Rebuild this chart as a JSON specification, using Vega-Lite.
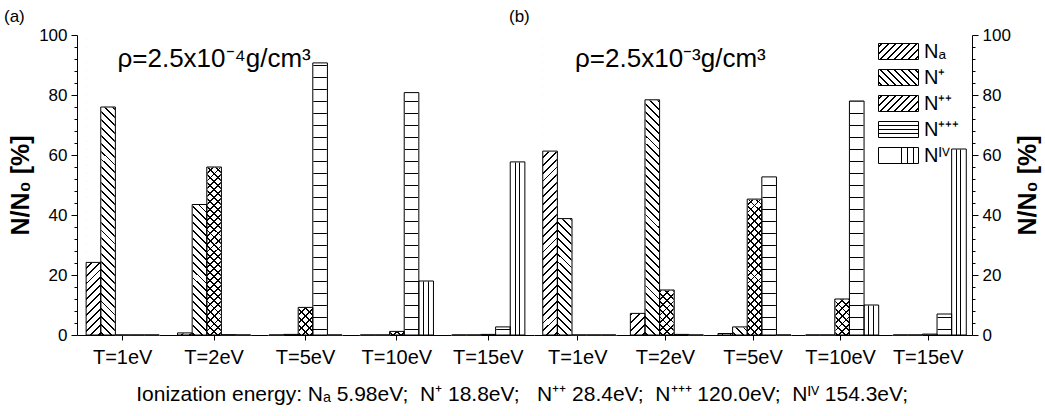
{
  "$schema": "https://vega.github.io/schema/vega-lite/v6.json",
  "padding": {"left": 4, "top": 8, "right": 5, "bottom": 5},
  "background": "white",
  "params": [
    {"name": "hatch", "value": [
      {"offset":0.010,"color":"transparent"},{"offset":0.010,"color":"#000"},{"offset":0.016,"color":"#000"},{"offset":0.016,"color":"transparent"},
      {"offset":0.035,"color":"transparent"},{"offset":0.035,"color":"#000"},{"offset":0.041,"color":"#000"},{"offset":0.041,"color":"transparent"},
      {"offset":0.060,"color":"transparent"},{"offset":0.060,"color":"#000"},{"offset":0.066,"color":"#000"},{"offset":0.066,"color":"transparent"},
      {"offset":0.085,"color":"transparent"},{"offset":0.085,"color":"#000"},{"offset":0.091,"color":"#000"},{"offset":0.091,"color":"transparent"},
      {"offset":0.110,"color":"transparent"},{"offset":0.110,"color":"#000"},{"offset":0.116,"color":"#000"},{"offset":0.116,"color":"transparent"},
      {"offset":0.135,"color":"transparent"},{"offset":0.135,"color":"#000"},{"offset":0.141,"color":"#000"},{"offset":0.141,"color":"transparent"},
      {"offset":0.160,"color":"transparent"},{"offset":0.160,"color":"#000"},{"offset":0.166,"color":"#000"},{"offset":0.166,"color":"transparent"},
      {"offset":0.185,"color":"transparent"},{"offset":0.185,"color":"#000"},{"offset":0.191,"color":"#000"},{"offset":0.191,"color":"transparent"},
      {"offset":0.210,"color":"transparent"},{"offset":0.210,"color":"#000"},{"offset":0.216,"color":"#000"},{"offset":0.216,"color":"transparent"},
      {"offset":0.235,"color":"transparent"},{"offset":0.235,"color":"#000"},{"offset":0.241,"color":"#000"},{"offset":0.241,"color":"transparent"},
      {"offset":0.260,"color":"transparent"},{"offset":0.260,"color":"#000"},{"offset":0.266,"color":"#000"},{"offset":0.266,"color":"transparent"},
      {"offset":0.285,"color":"transparent"},{"offset":0.285,"color":"#000"},{"offset":0.291,"color":"#000"},{"offset":0.291,"color":"transparent"},
      {"offset":0.310,"color":"transparent"},{"offset":0.310,"color":"#000"},{"offset":0.316,"color":"#000"},{"offset":0.316,"color":"transparent"},
      {"offset":0.335,"color":"transparent"},{"offset":0.335,"color":"#000"},{"offset":0.341,"color":"#000"},{"offset":0.341,"color":"transparent"},
      {"offset":0.360,"color":"transparent"},{"offset":0.360,"color":"#000"},{"offset":0.366,"color":"#000"},{"offset":0.366,"color":"transparent"},
      {"offset":0.385,"color":"transparent"},{"offset":0.385,"color":"#000"},{"offset":0.391,"color":"#000"},{"offset":0.391,"color":"transparent"},
      {"offset":0.410,"color":"transparent"},{"offset":0.410,"color":"#000"},{"offset":0.416,"color":"#000"},{"offset":0.416,"color":"transparent"},
      {"offset":0.435,"color":"transparent"},{"offset":0.435,"color":"#000"},{"offset":0.441,"color":"#000"},{"offset":0.441,"color":"transparent"},
      {"offset":0.460,"color":"transparent"},{"offset":0.460,"color":"#000"},{"offset":0.466,"color":"#000"},{"offset":0.466,"color":"transparent"},
      {"offset":0.485,"color":"transparent"},{"offset":0.485,"color":"#000"},{"offset":0.491,"color":"#000"},{"offset":0.491,"color":"transparent"},
      {"offset":0.510,"color":"transparent"},{"offset":0.510,"color":"#000"},{"offset":0.516,"color":"#000"},{"offset":0.516,"color":"transparent"},
      {"offset":0.535,"color":"transparent"},{"offset":0.535,"color":"#000"},{"offset":0.541,"color":"#000"},{"offset":0.541,"color":"transparent"},
      {"offset":0.560,"color":"transparent"},{"offset":0.560,"color":"#000"},{"offset":0.566,"color":"#000"},{"offset":0.566,"color":"transparent"},
      {"offset":0.585,"color":"transparent"},{"offset":0.585,"color":"#000"},{"offset":0.591,"color":"#000"},{"offset":0.591,"color":"transparent"},
      {"offset":0.610,"color":"transparent"},{"offset":0.610,"color":"#000"},{"offset":0.616,"color":"#000"},{"offset":0.616,"color":"transparent"},
      {"offset":0.635,"color":"transparent"},{"offset":0.635,"color":"#000"},{"offset":0.641,"color":"#000"},{"offset":0.641,"color":"transparent"},
      {"offset":0.660,"color":"transparent"},{"offset":0.660,"color":"#000"},{"offset":0.666,"color":"#000"},{"offset":0.666,"color":"transparent"},
      {"offset":0.685,"color":"transparent"},{"offset":0.685,"color":"#000"},{"offset":0.691,"color":"#000"},{"offset":0.691,"color":"transparent"},
      {"offset":0.710,"color":"transparent"},{"offset":0.710,"color":"#000"},{"offset":0.716,"color":"#000"},{"offset":0.716,"color":"transparent"},
      {"offset":0.735,"color":"transparent"},{"offset":0.735,"color":"#000"},{"offset":0.741,"color":"#000"},{"offset":0.741,"color":"transparent"},
      {"offset":0.760,"color":"transparent"},{"offset":0.760,"color":"#000"},{"offset":0.766,"color":"#000"},{"offset":0.766,"color":"transparent"},
      {"offset":0.785,"color":"transparent"},{"offset":0.785,"color":"#000"},{"offset":0.791,"color":"#000"},{"offset":0.791,"color":"transparent"},
      {"offset":0.810,"color":"transparent"},{"offset":0.810,"color":"#000"},{"offset":0.816,"color":"#000"},{"offset":0.816,"color":"transparent"},
      {"offset":0.835,"color":"transparent"},{"offset":0.835,"color":"#000"},{"offset":0.841,"color":"#000"},{"offset":0.841,"color":"transparent"},
      {"offset":0.860,"color":"transparent"},{"offset":0.860,"color":"#000"},{"offset":0.866,"color":"#000"},{"offset":0.866,"color":"transparent"},
      {"offset":0.885,"color":"transparent"},{"offset":0.885,"color":"#000"},{"offset":0.891,"color":"#000"},{"offset":0.891,"color":"transparent"},
      {"offset":0.910,"color":"transparent"},{"offset":0.910,"color":"#000"},{"offset":0.916,"color":"#000"},{"offset":0.916,"color":"transparent"},
      {"offset":0.935,"color":"transparent"},{"offset":0.935,"color":"#000"},{"offset":0.941,"color":"#000"},{"offset":0.941,"color":"transparent"},
      {"offset":0.960,"color":"transparent"},{"offset":0.960,"color":"#000"},{"offset":0.966,"color":"#000"},{"offset":0.966,"color":"transparent"},
      {"offset":0.985,"color":"transparent"},{"offset":0.985,"color":"#000"},{"offset":0.991,"color":"#000"},{"offset":0.991,"color":"transparent"}
    ]},
    {"name": "hlines", "value": [
      {"offset":0.02,"color":"transparent"},{"offset":0.02,"color":"#000"},{"offset":0.025,"color":"#000"},{"offset":0.025,"color":"transparent"},
      {"offset":0.06,"color":"transparent"},{"offset":0.06,"color":"#000"},{"offset":0.065,"color":"#000"},{"offset":0.065,"color":"transparent"},
      {"offset":0.10,"color":"transparent"},{"offset":0.10,"color":"#000"},{"offset":0.105,"color":"#000"},{"offset":0.105,"color":"transparent"},
      {"offset":0.14,"color":"transparent"},{"offset":0.14,"color":"#000"},{"offset":0.145,"color":"#000"},{"offset":0.145,"color":"transparent"},
      {"offset":0.18,"color":"transparent"},{"offset":0.18,"color":"#000"},{"offset":0.185,"color":"#000"},{"offset":0.185,"color":"transparent"},
      {"offset":0.22,"color":"transparent"},{"offset":0.22,"color":"#000"},{"offset":0.225,"color":"#000"},{"offset":0.225,"color":"transparent"},
      {"offset":0.26,"color":"transparent"},{"offset":0.26,"color":"#000"},{"offset":0.265,"color":"#000"},{"offset":0.265,"color":"transparent"},
      {"offset":0.30,"color":"transparent"},{"offset":0.30,"color":"#000"},{"offset":0.305,"color":"#000"},{"offset":0.305,"color":"transparent"},
      {"offset":0.34,"color":"transparent"},{"offset":0.34,"color":"#000"},{"offset":0.345,"color":"#000"},{"offset":0.345,"color":"transparent"},
      {"offset":0.38,"color":"transparent"},{"offset":0.38,"color":"#000"},{"offset":0.385,"color":"#000"},{"offset":0.385,"color":"transparent"},
      {"offset":0.42,"color":"transparent"},{"offset":0.42,"color":"#000"},{"offset":0.425,"color":"#000"},{"offset":0.425,"color":"transparent"},
      {"offset":0.46,"color":"transparent"},{"offset":0.46,"color":"#000"},{"offset":0.465,"color":"#000"},{"offset":0.465,"color":"transparent"},
      {"offset":0.50,"color":"transparent"},{"offset":0.50,"color":"#000"},{"offset":0.505,"color":"#000"},{"offset":0.505,"color":"transparent"},
      {"offset":0.54,"color":"transparent"},{"offset":0.54,"color":"#000"},{"offset":0.545,"color":"#000"},{"offset":0.545,"color":"transparent"},
      {"offset":0.58,"color":"transparent"},{"offset":0.58,"color":"#000"},{"offset":0.585,"color":"#000"},{"offset":0.585,"color":"transparent"},
      {"offset":0.62,"color":"transparent"},{"offset":0.62,"color":"#000"},{"offset":0.625,"color":"#000"},{"offset":0.625,"color":"transparent"},
      {"offset":0.66,"color":"transparent"},{"offset":0.66,"color":"#000"},{"offset":0.665,"color":"#000"},{"offset":0.665,"color":"transparent"},
      {"offset":0.70,"color":"transparent"},{"offset":0.70,"color":"#000"},{"offset":0.705,"color":"#000"},{"offset":0.705,"color":"transparent"},
      {"offset":0.74,"color":"transparent"},{"offset":0.74,"color":"#000"},{"offset":0.745,"color":"#000"},{"offset":0.745,"color":"transparent"},
      {"offset":0.78,"color":"transparent"},{"offset":0.78,"color":"#000"},{"offset":0.785,"color":"#000"},{"offset":0.785,"color":"transparent"},
      {"offset":0.82,"color":"transparent"},{"offset":0.82,"color":"#000"},{"offset":0.825,"color":"#000"},{"offset":0.825,"color":"transparent"},
      {"offset":0.86,"color":"transparent"},{"offset":0.86,"color":"#000"},{"offset":0.865,"color":"#000"},{"offset":0.865,"color":"transparent"},
      {"offset":0.90,"color":"transparent"},{"offset":0.90,"color":"#000"},{"offset":0.905,"color":"#000"},{"offset":0.905,"color":"transparent"},
      {"offset":0.94,"color":"transparent"},{"offset":0.94,"color":"#000"},{"offset":0.945,"color":"#000"},{"offset":0.945,"color":"transparent"},
      {"offset":0.98,"color":"transparent"},{"offset":0.98,"color":"#000"},{"offset":0.985,"color":"#000"},{"offset":0.985,"color":"transparent"}
    ]},
    {"name": "vlines", "value": [
      {"offset":0.30,"color":"transparent"},{"offset":0.30,"color":"#000"},{"offset":0.37,"color":"#000"},{"offset":0.37,"color":"transparent"},
      {"offset":0.60,"color":"transparent"},{"offset":0.60,"color":"#000"},{"offset":0.67,"color":"#000"},{"offset":0.67,"color":"transparent"}
    ]},
    {"name": "hatchL", "value": [
      {"offset":0.05,"color":"transparent"},{"offset":0.05,"color":"#000"},{"offset":0.08,"color":"#000"},{"offset":0.08,"color":"transparent"},
      {"offset":0.175,"color":"transparent"},{"offset":0.175,"color":"#000"},{"offset":0.205,"color":"#000"},{"offset":0.205,"color":"transparent"},
      {"offset":0.30,"color":"transparent"},{"offset":0.30,"color":"#000"},{"offset":0.33,"color":"#000"},{"offset":0.33,"color":"transparent"},
      {"offset":0.425,"color":"transparent"},{"offset":0.425,"color":"#000"},{"offset":0.455,"color":"#000"},{"offset":0.455,"color":"transparent"},
      {"offset":0.55,"color":"transparent"},{"offset":0.55,"color":"#000"},{"offset":0.58,"color":"#000"},{"offset":0.58,"color":"transparent"},
      {"offset":0.675,"color":"transparent"},{"offset":0.675,"color":"#000"},{"offset":0.705,"color":"#000"},{"offset":0.705,"color":"transparent"},
      {"offset":0.80,"color":"transparent"},{"offset":0.80,"color":"#000"},{"offset":0.83,"color":"#000"},{"offset":0.83,"color":"transparent"},
      {"offset":0.925,"color":"transparent"},{"offset":0.925,"color":"#000"},{"offset":0.955,"color":"#000"},{"offset":0.955,"color":"transparent"}
    ]},
    {"name": "hlinesL", "value": [
      {"offset":0.22,"color":"transparent"},{"offset":0.22,"color":"#000"},{"offset":0.29,"color":"#000"},{"offset":0.29,"color":"transparent"},
      {"offset":0.47,"color":"transparent"},{"offset":0.47,"color":"#000"},{"offset":0.54,"color":"#000"},{"offset":0.54,"color":"transparent"},
      {"offset":0.72,"color":"transparent"},{"offset":0.72,"color":"#000"},{"offset":0.79,"color":"#000"},{"offset":0.79,"color":"transparent"}
    ]},
    {"name": "vlinesL", "value": [
      {"offset":0.55,"color":"transparent"},{"offset":0.55,"color":"#000"},{"offset":0.58,"color":"#000"},{"offset":0.58,"color":"transparent"},
      {"offset":0.70,"color":"transparent"},{"offset":0.70,"color":"#000"},{"offset":0.73,"color":"#000"},{"offset":0.73,"color":"transparent"},
      {"offset":0.85,"color":"transparent"},{"offset":0.85,"color":"#000"},{"offset":0.88,"color":"#000"},{"offset":0.88,"color":"transparent"}
    ]}
  ],
  "data": {"values": [
    {"panel":"a","T":"T=1eV","species":"Na","value":24.2},
    {"panel":"a","T":"T=1eV","species":"N+","value":76},
    {"panel":"a","T":"T=1eV","species":"N++","value":0},
    {"panel":"a","T":"T=1eV","species":"N+++","value":0},
    {"panel":"a","T":"T=1eV","species":"NIV","value":0},
    {"panel":"a","T":"T=2eV","species":"Na","value":0.7},
    {"panel":"a","T":"T=2eV","species":"N+","value":43.5},
    {"panel":"a","T":"T=2eV","species":"N++","value":56},
    {"panel":"a","T":"T=2eV","species":"N+++","value":0.1},
    {"panel":"a","T":"T=2eV","species":"NIV","value":0},
    {"panel":"a","T":"T=5eV","species":"Na","value":0},
    {"panel":"a","T":"T=5eV","species":"N+","value":0.2},
    {"panel":"a","T":"T=5eV","species":"N++","value":9.2},
    {"panel":"a","T":"T=5eV","species":"N+++","value":90.7},
    {"panel":"a","T":"T=5eV","species":"NIV","value":0},
    {"panel":"a","T":"T=10eV","species":"Na","value":0},
    {"panel":"a","T":"T=10eV","species":"N+","value":0},
    {"panel":"a","T":"T=10eV","species":"N++","value":1.2},
    {"panel":"a","T":"T=10eV","species":"N+++","value":80.8},
    {"panel":"a","T":"T=10eV","species":"NIV","value":18},
    {"panel":"a","T":"T=15eV","species":"Na","value":0},
    {"panel":"a","T":"T=15eV","species":"N+","value":0},
    {"panel":"a","T":"T=15eV","species":"N++","value":0.2},
    {"panel":"a","T":"T=15eV","species":"N+++","value":2.7},
    {"panel":"a","T":"T=15eV","species":"NIV","value":57.7},
    {"panel":"b","T":"T=1eV","species":"Na","value":61.3},
    {"panel":"b","T":"T=1eV","species":"N+","value":38.8},
    {"panel":"b","T":"T=1eV","species":"N++","value":0},
    {"panel":"b","T":"T=1eV","species":"N+++","value":0},
    {"panel":"b","T":"T=1eV","species":"NIV","value":0},
    {"panel":"b","T":"T=2eV","species":"Na","value":7.2},
    {"panel":"b","T":"T=2eV","species":"N+","value":78.4},
    {"panel":"b","T":"T=2eV","species":"N++","value":15},
    {"panel":"b","T":"T=2eV","species":"N+++","value":0.2},
    {"panel":"b","T":"T=2eV","species":"NIV","value":0},
    {"panel":"b","T":"T=5eV","species":"Na","value":0.5},
    {"panel":"b","T":"T=5eV","species":"N+","value":2.7},
    {"panel":"b","T":"T=5eV","species":"N++","value":45.3},
    {"panel":"b","T":"T=5eV","species":"N+++","value":52.7},
    {"panel":"b","T":"T=5eV","species":"NIV","value":0},
    {"panel":"b","T":"T=10eV","species":"Na","value":0},
    {"panel":"b","T":"T=10eV","species":"N+","value":0},
    {"panel":"b","T":"T=10eV","species":"N++","value":12},
    {"panel":"b","T":"T=10eV","species":"N+++","value":78},
    {"panel":"b","T":"T=10eV","species":"NIV","value":10},
    {"panel":"b","T":"T=15eV","species":"Na","value":0},
    {"panel":"b","T":"T=15eV","species":"N+","value":0},
    {"panel":"b","T":"T=15eV","species":"N++","value":0.3},
    {"panel":"b","T":"T=15eV","species":"N+++","value":7},
    {"panel":"b","T":"T=15eV","species":"NIV","value":62}
  ]},
  "title": {
    "text": "Ionization energy: Nₐ 5.98eV;\u00a0 N⁺ 18.8eV;\u00a0\u00a0 N⁺⁺ 28.4eV;\u00a0 N⁺⁺⁺ 120.0eV;\u00a0 Nᴵⱽ 154.3eV;",
    "orient": "bottom", "anchor": "middle", "fontSize": 21, "fontWeight": "normal",
    "font": "Liberation Sans", "color": "black", "offset": 17
  },
  "config": {
    "view": {"stroke": null},
    "font": "Liberation Sans",
    "axis": {
      "domainColor": "black", "tickColor": "black", "labelColor": "black", "titleColor": "black",
      "labelFont": "Liberation Sans", "titleFont": "Liberation Sans", "grid": false,
      "domainWidth": 1, "tickWidth": 1
    },
    "title": {"font": "Liberation Sans", "color": "black", "fontWeight": "normal"}
  },
  "spacing": 0,
  "bounds": "flush",
  "hconcat": [
    {
      "width": 457, "height": 300,
      "title": {"text": "(a)", "anchor": "start", "frame": "group", "dx": -73, "offset": 0, "fontSize": 17},
      "layer": [
        {
          "transform": [{"filter": "datum.panel === 'a' && datum.value > 0"}],
          "mark": {"type": "bar", "strokeWidth": 0},
          "encoding": {
            "x": {"field": "T", "type": "nominal", "scale": {"domain": ["T=1eV","T=2eV","T=5eV","T=10eV","T=15eV"], "paddingInner": 0.2, "paddingOuter": 0.1}, "axis": {"title": null, "labelAngle": 0, "labelFontSize": 20, "tickSize": 5, "labelPadding": 7}},
            "xOffset": {"field": "species", "type": "nominal", "scale": {"domain": ["Na","N+","N++","N+++","NIV"], "paddingInner": 0, "paddingOuter": 0}},
            "y": {"datum": 100, "type": "quantitative", "scale": {"domain": [0, 100], "nice": false}, "axis": {"orient": "left", "title": "N/N₀ [%]", "titleFontSize": 25, "titleFontWeight": "bold", "titleAngle": 270, "titlePadding": 5, "values": [0,4,8,12,16,20,24,28,32,36,40,44,48,52,56,60,64,68,72,76,80,84,88,92,96,100], "labelExpr": "datum.value % 20 === 0 ? datum.label : ''", "labelOverlap": false, "labelFlush": false, "labelBound": false, "labelFontSize": 17, "labelPadding": 4, "tickSize": {"condition": {"test": "datum.value % 20 === 0", "value": 6}, "value": 3}}},
            "y2": {"datum": 0},
            "fill": {"condition": [
              {"test": "datum.species === 'Na'", "value": {"expr": "{gradient:'linear',x1:0,y1:0,x2:0.051,y2:1.05,stops:hatch}"}},
              {"test": "datum.species === 'N+'", "value": {"expr": "{gradient:'linear',x1:1,y1:0,x2:0.949,y2:1.05,stops:hatch}"}},
              {"test": "datum.species === 'N++'", "value": {"expr": "{gradient:'linear',x1:0,y1:0,x2:0.051,y2:1.05,stops:hatch}"}},
              {"test": "datum.species === 'N+++'", "value": {"expr": "{gradient:'linear',x1:0,y1:0,x2:0,y2:1,stops:hlines}"}}
            ], "value": {"expr": "{gradient:'linear',x1:0,y1:0,x2:1,y2:0,stops:vlines}"}}
          }
        },
        {
          "transform": [{"filter": "datum.panel === 'a' && datum.species === 'N++' && datum.value > 0"}],
          "mark": {"type": "bar", "strokeWidth": 0, "fill": {"expr": "{gradient:'linear',x1:1,y1:0,x2:0.949,y2:1.05,stops:hatch}"}},
          "encoding": {
            "x": {"field": "T", "type": "nominal", "scale": {"domain": ["T=1eV","T=2eV","T=5eV","T=10eV","T=15eV"], "paddingInner": 0.2, "paddingOuter": 0.1}, "axis": {"title": null, "labelAngle": 0, "labelFontSize": 20, "tickSize": 5, "labelPadding": 7}},
            "xOffset": {"field": "species", "type": "nominal", "scale": {"domain": ["Na","N+","N++","N+++","NIV"], "paddingInner": 0, "paddingOuter": 0}},
            "y": {"datum": 100, "type": "quantitative", "scale": {"domain": [0, 100], "nice": false}, "axis": {"orient": "left", "title": "N/N₀ [%]", "titleFontSize": 25, "titleFontWeight": "bold", "titleAngle": 270, "titlePadding": 5, "values": [0,4,8,12,16,20,24,28,32,36,40,44,48,52,56,60,64,68,72,76,80,84,88,92,96,100], "labelExpr": "datum.value % 20 === 0 ? datum.label : ''", "labelOverlap": false, "labelFlush": false, "labelBound": false, "labelFontSize": 17, "labelPadding": 4, "tickSize": {"condition": {"test": "datum.value % 20 === 0", "value": 6}, "value": 3}}},
            "y2": {"datum": 0}
          }
        },
        {
          "transform": [{"filter": "datum.panel === 'a'"}],
          "mark": {"type": "bar", "fill": "white", "stroke": "white", "strokeWidth": 1.2},
          "encoding": {
            "x": {"field": "T", "type": "nominal", "scale": {"domain": ["T=1eV","T=2eV","T=5eV","T=10eV","T=15eV"], "paddingInner": 0.2, "paddingOuter": 0.1}, "axis": {"title": null, "labelAngle": 0, "labelFontSize": 20, "tickSize": 5, "labelPadding": 7}},
            "xOffset": {"field": "species", "type": "nominal", "scale": {"domain": ["Na","N+","N++","N+++","NIV"], "paddingInner": 0, "paddingOuter": 0}},
            "y": {"field": "value", "type": "quantitative", "scale": {"domain": [0, 100], "nice": false}, "axis": {"orient": "left", "title": "N/N₀ [%]", "titleFontSize": 25, "titleFontWeight": "bold", "titleAngle": 270, "titlePadding": 5, "values": [0,4,8,12,16,20,24,28,32,36,40,44,48,52,56,60,64,68,72,76,80,84,88,92,96,100], "labelExpr": "datum.value % 20 === 0 ? datum.label : ''", "labelOverlap": false, "labelFlush": false, "labelBound": false, "labelFontSize": 17, "labelPadding": 4, "tickSize": {"condition": {"test": "datum.value % 20 === 0", "value": 6}, "value": 3}}},
            "y2": {"datum": 100}
          }
        },
        {
          "transform": [{"filter": "datum.panel === 'a'"}],
          "mark": {"type": "bar", "fill": "transparent", "stroke": "black", "strokeWidth": 1},
          "encoding": {
            "x": {"field": "T", "type": "nominal", "scale": {"domain": ["T=1eV","T=2eV","T=5eV","T=10eV","T=15eV"], "paddingInner": 0.2, "paddingOuter": 0.1}, "axis": {"title": null, "labelAngle": 0, "labelFontSize": 20, "tickSize": 5, "labelPadding": 7}},
            "xOffset": {"field": "species", "type": "nominal", "scale": {"domain": ["Na","N+","N++","N+++","NIV"], "paddingInner": 0, "paddingOuter": 0}},
            "y": {"field": "value", "type": "quantitative", "scale": {"domain": [0, 100], "nice": false}, "axis": {"orient": "left", "title": "N/N₀ [%]", "titleFontSize": 25, "titleFontWeight": "bold", "titleAngle": 270, "titlePadding": 5, "values": [0,4,8,12,16,20,24,28,32,36,40,44,48,52,56,60,64,68,72,76,80,84,88,92,96,100], "labelExpr": "datum.value % 20 === 0 ? datum.label : ''", "labelOverlap": false, "labelFlush": false, "labelBound": false, "labelFontSize": 17, "labelPadding": 4, "tickSize": {"condition": {"test": "datum.value % 20 === 0", "value": 6}, "value": 3}}},
            "y2": {"datum": 0}
          }
        },
        {
          "data": {"values": [{"label": "ρ=2.5x10⁻⁴g/cm³"}]},
          "mark": {"type": "text", "fontSize": 26, "font": "Liberation Sans", "color": "black", "align": "center", "baseline": "middle"},
          "encoding": {
            "x": {"datum": "T=2eV", "type": "nominal", "scale": {"domain": ["T=1eV","T=2eV","T=5eV","T=10eV","T=15eV"], "paddingInner": 0.2, "paddingOuter": 0.1}, "axis": {"title": null, "labelAngle": 0, "labelFontSize": 20, "tickSize": 5, "labelPadding": 7}},
            "y": {"datum": 92, "type": "quantitative", "scale": {"domain": [0, 100], "nice": false}, "axis": {"orient": "left", "title": "N/N₀ [%]", "titleFontSize": 25, "titleFontWeight": "bold", "titleAngle": 270, "titlePadding": 5, "values": [0,4,8,12,16,20,24,28,32,36,40,44,48,52,56,60,64,68,72,76,80,84,88,92,96,100], "labelExpr": "datum.value % 20 === 0 ? datum.label : ''", "labelOverlap": false, "labelFlush": false, "labelBound": false, "labelFontSize": 17, "labelPadding": 4, "tickSize": {"condition": {"test": "datum.value % 20 === 0", "value": 6}, "value": 3}}},
            "text": {"field": "label"}
          }
        }
      ]
    },
    {
      "width": 438, "height": 300,
      "title": {"text": "(b)", "anchor": "start", "frame": "group", "dx": -25, "offset": 0, "fontSize": 17},
      "layer": [
        {
          "transform": [{"filter": "datum.panel === 'b' && datum.value > 0"}],
          "mark": {"type": "bar", "strokeWidth": 0},
          "encoding": {
            "x": {"field": "T", "type": "nominal", "scale": {"domain": ["T=1eV","T=2eV","T=5eV","T=10eV","T=15eV"], "paddingInner": 0.2, "paddingOuter": 0.1}, "axis": {"title": null, "labelAngle": 0, "labelFontSize": 20, "tickSize": 5, "labelPadding": 7}},
            "xOffset": {"field": "species", "type": "nominal", "scale": {"domain": ["Na","N+","N++","N+++","NIV"], "paddingInner": 0, "paddingOuter": 0}},
            "y": {"datum": 100, "type": "quantitative", "scale": {"domain": [0, 100], "nice": false}, "axis": {"orient": "right", "title": "N/N₀ [%]", "titleFontSize": 25, "titleFontWeight": "bold", "titleAngle": 270, "titleBaseline": "top", "titlePadding": 5, "values": [0,4,8,12,16,20,24,28,32,36,40,44,48,52,56,60,64,68,72,76,80,84,88,92,96,100], "labelExpr": "datum.value % 20 === 0 ? datum.label : ''", "labelOverlap": false, "labelFlush": false, "labelBound": false, "labelFontSize": 17, "labelPadding": 4, "tickSize": {"condition": {"test": "datum.value % 20 === 0", "value": 6}, "value": 3}}},
            "y2": {"datum": 0},
            "fill": {"condition": [
              {"test": "datum.species === 'Na'", "value": {"expr": "{gradient:'linear',x1:0,y1:0,x2:0.051,y2:1.05,stops:hatch}"}},
              {"test": "datum.species === 'N+'", "value": {"expr": "{gradient:'linear',x1:1,y1:0,x2:0.949,y2:1.05,stops:hatch}"}},
              {"test": "datum.species === 'N++'", "value": {"expr": "{gradient:'linear',x1:0,y1:0,x2:0.051,y2:1.05,stops:hatch}"}},
              {"test": "datum.species === 'N+++'", "value": {"expr": "{gradient:'linear',x1:0,y1:0,x2:0,y2:1,stops:hlines}"}}
            ], "value": {"expr": "{gradient:'linear',x1:0,y1:0,x2:1,y2:0,stops:vlines}"}}
          }
        },
        {
          "transform": [{"filter": "datum.panel === 'b' && datum.species === 'N++' && datum.value > 0"}],
          "mark": {"type": "bar", "strokeWidth": 0, "fill": {"expr": "{gradient:'linear',x1:1,y1:0,x2:0.949,y2:1.05,stops:hatch}"}},
          "encoding": {
            "x": {"field": "T", "type": "nominal", "scale": {"domain": ["T=1eV","T=2eV","T=5eV","T=10eV","T=15eV"], "paddingInner": 0.2, "paddingOuter": 0.1}, "axis": {"title": null, "labelAngle": 0, "labelFontSize": 20, "tickSize": 5, "labelPadding": 7}},
            "xOffset": {"field": "species", "type": "nominal", "scale": {"domain": ["Na","N+","N++","N+++","NIV"], "paddingInner": 0, "paddingOuter": 0}},
            "y": {"datum": 100, "type": "quantitative", "scale": {"domain": [0, 100], "nice": false}, "axis": {"orient": "right", "title": "N/N₀ [%]", "titleFontSize": 25, "titleFontWeight": "bold", "titleAngle": 270, "titleBaseline": "top", "titlePadding": 5, "values": [0,4,8,12,16,20,24,28,32,36,40,44,48,52,56,60,64,68,72,76,80,84,88,92,96,100], "labelExpr": "datum.value % 20 === 0 ? datum.label : ''", "labelOverlap": false, "labelFlush": false, "labelBound": false, "labelFontSize": 17, "labelPadding": 4, "tickSize": {"condition": {"test": "datum.value % 20 === 0", "value": 6}, "value": 3}}},
            "y2": {"datum": 0}
          }
        },
        {
          "transform": [{"filter": "datum.panel === 'b'"}],
          "mark": {"type": "bar", "fill": "white", "stroke": "white", "strokeWidth": 1.2},
          "encoding": {
            "x": {"field": "T", "type": "nominal", "scale": {"domain": ["T=1eV","T=2eV","T=5eV","T=10eV","T=15eV"], "paddingInner": 0.2, "paddingOuter": 0.1}, "axis": {"title": null, "labelAngle": 0, "labelFontSize": 20, "tickSize": 5, "labelPadding": 7}},
            "xOffset": {"field": "species", "type": "nominal", "scale": {"domain": ["Na","N+","N++","N+++","NIV"], "paddingInner": 0, "paddingOuter": 0}},
            "y": {"field": "value", "type": "quantitative", "scale": {"domain": [0, 100], "nice": false}, "axis": {"orient": "right", "title": "N/N₀ [%]", "titleFontSize": 25, "titleFontWeight": "bold", "titleAngle": 270, "titleBaseline": "top", "titlePadding": 5, "values": [0,4,8,12,16,20,24,28,32,36,40,44,48,52,56,60,64,68,72,76,80,84,88,92,96,100], "labelExpr": "datum.value % 20 === 0 ? datum.label : ''", "labelOverlap": false, "labelFlush": false, "labelBound": false, "labelFontSize": 17, "labelPadding": 4, "tickSize": {"condition": {"test": "datum.value % 20 === 0", "value": 6}, "value": 3}}},
            "y2": {"datum": 100}
          }
        },
        {
          "transform": [{"filter": "datum.panel === 'b'"}],
          "mark": {"type": "bar", "fill": "transparent", "stroke": "black", "strokeWidth": 1},
          "encoding": {
            "x": {"field": "T", "type": "nominal", "scale": {"domain": ["T=1eV","T=2eV","T=5eV","T=10eV","T=15eV"], "paddingInner": 0.2, "paddingOuter": 0.1}, "axis": {"title": null, "labelAngle": 0, "labelFontSize": 20, "tickSize": 5, "labelPadding": 7}},
            "xOffset": {"field": "species", "type": "nominal", "scale": {"domain": ["Na","N+","N++","N+++","NIV"], "paddingInner": 0, "paddingOuter": 0}},
            "y": {"field": "value", "type": "quantitative", "scale": {"domain": [0, 100], "nice": false}, "axis": {"orient": "right", "title": "N/N₀ [%]", "titleFontSize": 25, "titleFontWeight": "bold", "titleAngle": 270, "titleBaseline": "top", "titlePadding": 5, "values": [0,4,8,12,16,20,24,28,32,36,40,44,48,52,56,60,64,68,72,76,80,84,88,92,96,100], "labelExpr": "datum.value % 20 === 0 ? datum.label : ''", "labelOverlap": false, "labelFlush": false, "labelBound": false, "labelFontSize": 17, "labelPadding": 4, "tickSize": {"condition": {"test": "datum.value % 20 === 0", "value": 6}, "value": 3}}},
            "y2": {"datum": 0}
          }
        },
        {
          "transform": [{"filter": "datum.panel === 'b'"}],
          "mark": {"type": "bar", "strokeWidth": 0},
          "encoding": {
            "x": {"field": "T", "type": "nominal", "scale": {"domain": ["T=1eV","T=2eV","T=5eV","T=10eV","T=15eV"], "paddingInner": 0.2, "paddingOuter": 0.1}, "axis": {"title": null, "labelAngle": 0, "labelFontSize": 20, "tickSize": 5, "labelPadding": 7}},
            "xOffset": {"field": "species", "type": "nominal", "scale": {"domain": ["Na","N+","N++","N+++","NIV"], "paddingInner": 0, "paddingOuter": 0}},
            "y": {"datum": 0, "type": "quantitative", "scale": {"domain": [0, 100], "nice": false}, "axis": {"orient": "right", "title": "N/N₀ [%]", "titleFontSize": 25, "titleFontWeight": "bold", "titleAngle": 270, "titleBaseline": "top", "titlePadding": 5, "values": [0,4,8,12,16,20,24,28,32,36,40,44,48,52,56,60,64,68,72,76,80,84,88,92,96,100], "labelExpr": "datum.value % 20 === 0 ? datum.label : ''", "labelOverlap": false, "labelFlush": false, "labelBound": false, "labelFontSize": 17, "labelPadding": 4, "tickSize": {"condition": {"test": "datum.value % 20 === 0", "value": 6}, "value": 3}}},
            "y2": {"datum": 0},
            "fill": {"field": "species", "type": "nominal",
              "scale": {"domain": ["Na","N+","N++","N+++","NIV"], "range": [
                {"expr": "{gradient:'linear',x1:0,y1:0,x2:1.207,y2:0.483,stops:hatchL}"},
                {"expr": "{gradient:'linear',x1:1,y1:0,x2:-0.207,y2:0.483,stops:hatchL}"},
                {"expr": "{gradient:'linear',x1:0,y1:0,x2:1.207,y2:0.483,stops:hatchL}"},
                {"expr": "{gradient:'linear',x1:0,y1:0,x2:0,y2:1,stops:hlinesL}"},
                {"expr": "{gradient:'linear',x1:0,y1:0,x2:1,y2:0,stops:vlinesL}"}
              ]},
              "legend": {"title": null, "orient": "none", "legendX": 811, "legendY": 6,
                "symbolType": "M-2,-0.8H2V0.8H-2Z", "symbolSize": 400, "symbolStrokeColor": "black", "symbolStrokeWidth": 1, "symbolOpacity": 1,
                "labelOffset": 15, "rowPadding": 5, "labelFontSize": 20, "labelFont": "Liberation Sans", "labelColor": "black",
                "labelExpr": "datum.label === 'Na' ? 'Nₐ' : datum.label === 'N+' ? 'N⁺' : datum.label === 'N++' ? 'N⁺⁺' : datum.label === 'N+++' ? 'N⁺⁺⁺' : 'Nᴵⱽ'"}
            }
          }
        },
        {
          "data": {"values": [{"label": "ρ=2.5x10⁻³g/cm³"}]},
          "mark": {"type": "text", "fontSize": 26, "font": "Liberation Sans", "color": "black", "align": "center", "baseline": "middle", "dx": 5},
          "encoding": {
            "x": {"datum": "T=2eV", "type": "nominal", "scale": {"domain": ["T=1eV","T=2eV","T=5eV","T=10eV","T=15eV"], "paddingInner": 0.2, "paddingOuter": 0.1}, "axis": {"title": null, "labelAngle": 0, "labelFontSize": 20, "tickSize": 5, "labelPadding": 7}},
            "y": {"datum": 92, "type": "quantitative", "scale": {"domain": [0, 100], "nice": false}, "axis": {"orient": "right", "title": "N/N₀ [%]", "titleFontSize": 25, "titleFontWeight": "bold", "titleAngle": 270, "titleBaseline": "top", "titlePadding": 5, "values": [0,4,8,12,16,20,24,28,32,36,40,44,48,52,56,60,64,68,72,76,80,84,88,92,96,100], "labelExpr": "datum.value % 20 === 0 ? datum.label : ''", "labelOverlap": false, "labelFlush": false, "labelBound": false, "labelFontSize": 17, "labelPadding": 4, "tickSize": {"condition": {"test": "datum.value % 20 === 0", "value": 6}, "value": 3}}},
            "text": {"field": "label"}
          }
        }
      ]
    }
  ]
}
